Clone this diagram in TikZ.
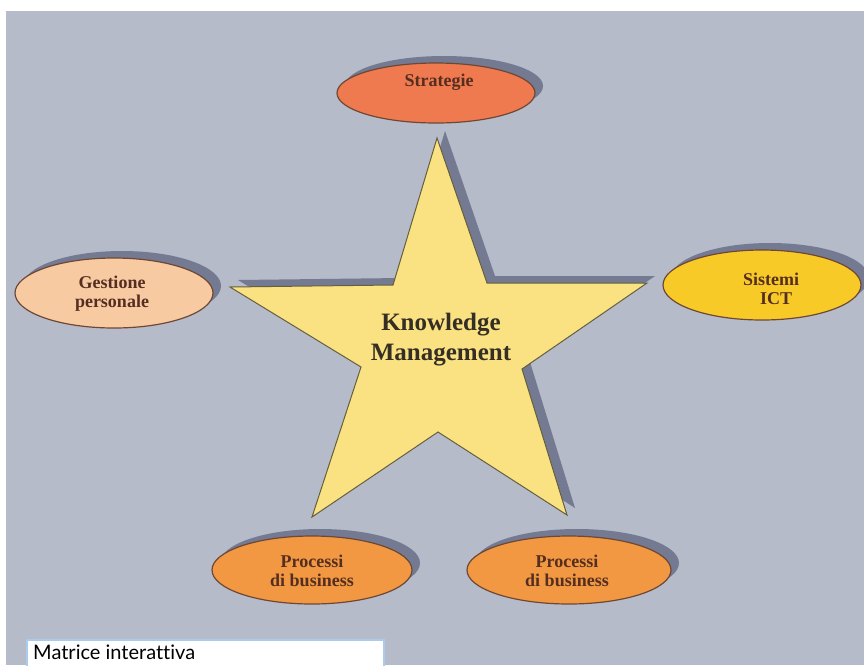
\documentclass[tikz,border=0pt]{standalone}
\usepackage{fontspec}
\setmainfont{Liberation Serif}
\newfontfamily\boxfont[Ligatures=NoCommon]{Lato}
\usetikzlibrary{shapes.geometric,shadows}
\definecolor{bg}{RGB}{182,187,202}
\definecolor{shadowc}{RGB}{116,122,145}
\definecolor{strat}{RGB}{240,122,80}
\definecolor{gest}{RGB}{248,202,162}
\definecolor{ict}{RGB}{248,202,40}
\definecolor{proc}{RGB}{242,152,66}
\definecolor{starc}{RGB}{250,226,130}
\definecolor{edgebrown}{RGB}{110,72,52}
\definecolor{staredge}{RGB}{100,95,60}
\definecolor{labelc}{RGB}{84,46,32}
\definecolor{kmc}{RGB}{52,46,36}
\definecolor{boxedge}{RGB}{172,202,236}
\tikzset{
  oval/.style={ellipse, draw=edgebrown, line width=1.2pt, inner sep=0pt,
    minimum width=198pt, minimum height=70pt,
    drop shadow={shadow xshift=8pt, shadow yshift=7pt, fill=shadowc, opacity=1}},
  lbl/.style={font=\bfseries\fontsize{18}{19}\selectfont, text=labelc, align=center, inner sep=0pt},
}
\begin{document}
\begin{tikzpicture}[x=1pt,y=-1pt]
\useasboundingbox (0,0) rectangle (864,665);
\fill[white] (0,0) rectangle (864,665);
\fill[bg] (6,11) rectangle (864,665);
% star
\coordinate (sT) at (437,138);
\coordinate (sUR) at (487,283);
\coordinate (sR) at (647,283);
\coordinate (sLR) at (522,369);
\coordinate (sBR) at (567,515);
\coordinate (sB) at (438,432);
\coordinate (sBL) at (312,517);
\coordinate (sLL) at (361,367);
\coordinate (sL) at (230,287);
\coordinate (sUL) at (393,285);
\fill[shadowc] ([shift={(8,-7)}]sT) -- ([shift={(8,-7)}]sUR) -- ([shift={(8,-7)}]sR) -- ([shift={(8,-7)}]sLR) -- ([shift={(8,-7)}]sBR) -- ([shift={(8,-7)}]sB) -- ([shift={(8,-7)}]sBL) -- ([shift={(8,-7)}]sLL) -- ([shift={(8,-7)}]sL) -- ([shift={(8,-7)}]sUL) -- cycle;
\draw[fill=starc, draw=staredge, line width=1pt, line join=miter] (sT) -- (sUR) -- (sR) -- (sLR) -- (sBR) -- (sB) -- (sBL) -- (sLL) -- (sL) -- (sUL) -- cycle;
\node[font=\bfseries\fontsize{25}{30}\selectfont, text=kmc, align=center] (km) at (441,340) {Knowledge\\Management};
% ovals
\node[oval, fill=strat, minimum height=60pt] (strat) at (436,93) {};
\node[lbl] (stratt) at (439,82) {Strategie};
\node[oval, fill=gest] (gest) at (114,293) {};
\node[lbl] (gestt) at (112,294) {Gestione\\personale};
\node[oval, fill=ict] (ict) at (762,285) {};
\node[lbl] (ictt) at (771,289) {Sistemi\\\hspace*{10pt}ICT};
\node[oval, fill=proc, minimum width=200pt, minimum height=68pt] (procl) at (312,570) {};
\node[lbl] (proclt) at (312,571) {Processi\\di business};
\node[oval, fill=proc, minimum width=204pt, minimum height=68pt] (procr) at (569,570) {};
\node[lbl] (procrt) at (567,571) {Processi\\di business};
% caption box
\draw[fill=white, draw=boxedge, line width=2pt] (27,640) rectangle (384,675);
\node[anchor=base west, font=\boxfont\fontsize{20}{22}\selectfont, inner sep=0pt] (cap) at (33,659) {Matrice interattiva};
\end{tikzpicture}
\end{document}
